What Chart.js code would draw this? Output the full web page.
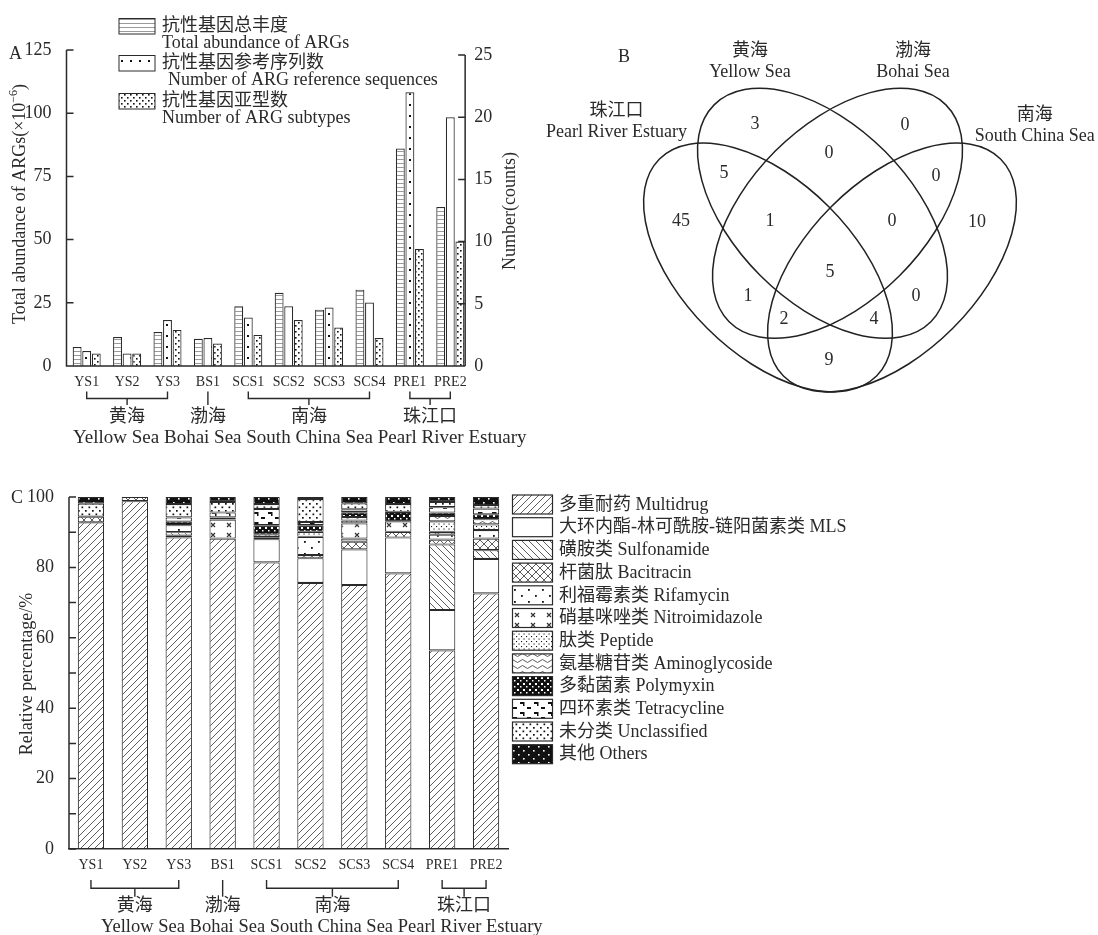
<!DOCTYPE html>
<html>
<head>
<meta charset="utf-8">
<script src="https://cdn.jsdelivr.net/npm/chart.js@4.4.3/dist/chart.umd.min.js"></script>
<style>
html, body { margin: 0; padding: 0; background: #fff; }
#wrap { position: relative; width: 1098px; height: 935px; }
#wrap canvas { position: absolute; }
</style>
</head>
<body>
<div id="wrap">
  <canvas id="chartA" width="540" height="460" style="left:0;top:0;"></canvas>
  <canvas id="chartB" width="558" height="460" style="left:540px;top:0;"></canvas>
  <canvas id="chartC" width="1098" height="475" style="left:0;top:460px;"></canvas>
</div>
<script>
// ---- data ----
const sites = ['YS1', 'YS2', 'YS3', 'BS1', 'SCS1', 'SCS2', 'SCS3', 'SCS4', 'PRE1', 'PRE2'];
const seaGroups = [
    { cn: '黄海', from: 0, to: 2 },
    { cn: '渤海', from: 3, to: 3 },
    { cn: '南海', from: 4, to: 7 },
    { cn: '珠江口', from: 8, to: 9 }
];
const seaNamesEn = ['Yellow Sea', 'Bohai Sea', 'South China Sea', 'Pearl River Estuary'];

// panel A
const totalAbundance = [7.5, 11.5, 13.4, 10.8, 23.6, 29.0, 22.3, 30.2, 86.0, 62.9];
const refSeqCount = [1.2, 1.0, 3.7, 2.25, 3.9, 4.8, 4.7, 5.1, 22.0, 20.0];
const subtypeCount = [1.0, 1.0, 2.9, 1.8, 2.5, 3.7, 3.1, 2.25, 9.4, 10.0];
const abundanceTicks = [0, 25, 50, 75, 100, 125];
const countTicks = [0, 5, 10, 15, 20, 25];
const legendA = [
    { cn: '抗性基因总丰度', en: 'Total abundance of ARGs' },
    { cn: '抗性基因参考序列数', en: 'Number of ARG reference sequences' },
    { cn: '抗性基因亚型数', en: 'Number of ARG subtypes' }
];

// panel B (Venn)
const vennSets = [
    { cn: '珠江口', en: 'Pearl River Estuary' },
    { cn: '黄海', en: 'Yellow Sea' },
    { cn: '渤海', en: 'Bohai Sea' },
    { cn: '南海', en: 'South China Sea' }
];
const vennRegions = ['YS', 'BS', 'YS-BS', 'PRE-YS', 'BS-SCS', 'PRE', 'PRE-YS-BS', 'YS-BS-SCS', 'SCS',
    'ALL', 'PRE-BS', 'YS-SCS', 'PRE-BS-SCS', 'PRE-YS-SCS', 'PRE-SCS'];
const vennCounts = [3, 0, 0, 5, 0, 45, 1, 0, 10, 5, 1, 0, 2, 4, 9];

// panel C
const argClasses = [
    { cn: '多重耐药', en: 'Multidrug' },
    { cn: '大环内酯-林可酰胺-链阳菌素类', en: 'MLS' },
    { cn: '磺胺类', en: 'Sulfonamide' },
    { cn: '杆菌肽', en: 'Bacitracin' },
    { cn: '利福霉素类', en: 'Rifamycin' },
    { cn: '硝基咪唑类', en: 'Nitroimidazole' },
    { cn: '肽类', en: 'Peptide' },
    { cn: '氨基糖苷类', en: 'Aminoglycoside' },
    { cn: '多黏菌素', en: 'Polymyxin' },
    { cn: '四环素类', en: 'Tetracycline' },
    { cn: '未分类', en: 'Unclassified' },
    { cn: '其他', en: 'Others' }
];
const multidrug      = [92.8, 98.8, 88.5, 88.2, 81.4, 75.6, 75.0, 78.3, 56.4, 72.6];
const mls            = [0, 0, 0.5, 0, 6.6, 7.0, 10.1, 10.2, 11.5, 9.8];
const sulfonamide    = [0, 0, 1.0, 0, 0, 0, 0, 0, 18.6, 2.5];
const bacitracin     = [1.6, 1.2, 0, 0, 0.6, 0.9, 2.2, 1.6, 1.4, 3.3];
const rifamycin      = [0, 0, 2.0, 0, 0, 5.2, 0.9, 0, 1.4, 2.4];
const nitroimidazole = [0, 0, 0, 5.4, 0, 0, 4.3, 3.0, 0.8, 0];
const peptide        = [0, 0, 0, 0, 0, 1.4, 0.8, 0, 3.0, 1.6];
const aminoglycoside = [0, 0, 0, 0.6, 0.8, 0, 1.0, 0, 1.5, 1.5];
const polymyxin      = [0, 0, 1.0, 0, 2.6, 1.9, 1.4, 2.7, 1.0, 1.4];
const tetracycline   = [0, 0, 1.2, 1.4, 4.6, 0.9, 0.8, 0, 1.5, 1.6];
const unclassified   = [3.7, 0, 3.8, 3.0, 1.4, 6.5, 1.7, 2.2, 1.5, 1.0];
const others         = [1.9, 0, 2.0, 1.4, 2.0, 0.6, 1.8, 2.0, 1.4, 2.3];
const classValues = [multidrug, mls, sulfonamide, bacitracin, rifamycin, nitroimidazole,
    peptide, aminoglycoside, polymyxin, tetracycline, unclassified, others];

// ---- styling helpers ----
const FONT = '"Liberation Serif", "Times New Roman", "Noto Sans CJK SC", serif';
const INK = '#2a2a2a';

function tile(w, h, bg, draw) {
    const c = document.createElement('canvas');
    c.width = w;
    c.height = h;
    const g = c.getContext('2d');
    g.fillStyle = bg;
    g.fillRect(0, 0, w, h);
    g.strokeStyle = '#333';
    g.fillStyle = '#111';
    g.lineWidth = 0.8;
    draw(g);
    return g.createPattern(c, 'repeat');
}

function diag(g, s, dir) {
    g.beginPath();
    [-s, 0, s].forEach(o => {
        if (dir > 0) { g.moveTo(o, s); g.lineTo(o + s, 0); }
        else { g.moveTo(o, 0); g.lineTo(o + s, s); }
    });
    g.stroke();
}

const patA = [
    tile(8, 4, '#fff', g => { g.fillStyle = '#9a9a9a'; g.fillRect(0, 3, 8, 1); }),
    tile(9, 11, '#fff', g => { g.fillRect(4, 5, 2, 2); }),
    tile(6, 6, '#fff', g => { g.fillRect(1, 1, 1.6, 1.6); g.fillRect(4, 4, 1.6, 1.6); })
];

const patC = [
    tile(7, 7, '#fff', g => diag(g, 7, 1)),
    '#fff',
    tile(7, 7, '#fff', g => diag(g, 7, -1)),
    tile(8, 8, '#fff', g => { diag(g, 8, 1); diag(g, 8, -1); }),
    tile(14, 12, '#fff', g => { g.fillRect(3, 3, 1.8, 1.8); g.fillRect(10, 9, 1.8, 1.8); }),
    tile(16, 10, '#fff', g => {
        g.lineWidth = 1.2;
        g.beginPath();
        g.moveTo(3, 3); g.lineTo(7, 7); g.moveTo(7, 3); g.lineTo(3, 7);
        g.stroke();
    }),
    tile(5, 5, '#fff', g => { g.fillRect(1, 1, 1.1, 1.1); g.fillRect(3.5, 3.5, 1.1, 1.1); }),
    tile(10, 6, '#fff', g => {
        g.beginPath();
        g.moveTo(0, 3);
        g.quadraticCurveTo(2.5, 0, 5, 3);
        g.quadraticCurveTo(7.5, 6, 10, 3);
        g.stroke();
    }),
    tile(6, 6, '#111', g => { g.fillStyle = '#fff'; g.fillRect(1, 1, 2, 2); g.fillRect(4, 4, 1.5, 1.5); }),
    tile(14, 10, '#fff', g => { g.fillRect(2, 2, 4, 2); g.fillRect(5, 2, 1.5, 4); g.fillRect(9, 7, 4, 2); }),
    tile(7, 7, '#fff', g => { g.fillRect(1, 1, 1.7, 1.7); g.fillRect(4.5, 4.5, 1.7, 1.7); }),
    tile(10, 8, '#111', g => { g.fillStyle = '#fff'; g.fillRect(3, 2, 1.6, 1.6); g.fillRect(8, 6, 1.6, 1.6); })
];

function drawBrackets(ctx, xs, cfg) {
    ctx.save();
    ctx.strokeStyle = INK;
    ctx.lineWidth = 1.4;
    ctx.fillStyle = INK;
    ctx.font = `18px ${FONT}`;
    ctx.textAlign = 'center';
    ctx.textBaseline = 'middle';
    seaGroups.forEach(grp => {
        const x0 = xs.getPixelForValue(grp.from);
        const x1 = xs.getPixelForValue(grp.to);
        const xm = (x0 + x1) / 2;
        ctx.beginPath();
        if (grp.from === grp.to) {
            ctx.moveTo(x0, cfg.armTop);
            ctx.lineTo(x0, cfg.stemBottom);
        } else {
            ctx.moveTo(x0, cfg.armTop);
            ctx.lineTo(x0, cfg.barY);
            ctx.lineTo(x1, cfg.barY);
            ctx.lineTo(x1, cfg.armTop);
            ctx.moveTo(xm, cfg.barY);
            ctx.lineTo(xm, cfg.stemBottom);
        }
        ctx.stroke();
        ctx.fillText(grp.cn, xm, cfg.cnY);
    });
    ctx.textAlign = 'left';
    ctx.font = `${cfg.enSize}px ${FONT}`;
    ctx.fillText(seaNamesEn.join(' '), cfg.enX, cfg.enY);
    ctx.restore();
}

// ---- panel A ----
const CAT_A = 0.71;
const panelAPlugin = {
    id: 'panelA',
    afterDraw(chart) {
        const { ctx, chartArea: ca, scales: { x, y, y1 } } = chart;
        const cw = (ca.right - ca.left) / sites.length;
        const xr = x.getPixelForValue(sites.length - 1) + cw * CAT_A / 2 + 0.5;
        const y0 = y.getPixelForValue(0);
        ctx.save();
        ctx.strokeStyle = INK;
        ctx.lineWidth = 1.5;
        ctx.beginPath();
        ctx.moveTo(ca.left, y.getPixelForValue(abundanceTicks[abundanceTicks.length - 1]));
        ctx.lineTo(ca.left, y0);
        ctx.lineTo(xr, y0);
        ctx.moveTo(xr, y1.getPixelForValue(0));
        ctx.lineTo(xr, y1.getPixelForValue(countTicks[countTicks.length - 1]));
        abundanceTicks.forEach(v => {
            const py = y.getPixelForValue(v);
            ctx.moveTo(ca.left, py);
            ctx.lineTo(ca.left + 7, py);
        });
        countTicks.forEach(v => {
            const py = y1.getPixelForValue(v);
            ctx.moveTo(xr - 7, py);
            ctx.lineTo(xr, py);
        });
        ctx.stroke();

        ctx.fillStyle = INK;
        ctx.font = `18px ${FONT}`;
        ctx.textAlign = 'left';
        ctx.textBaseline = 'middle';
        countTicks.forEach(v => ctx.fillText(String(v), xr + 9, y1.getPixelForValue(v)));

        // panel letter
        ctx.fillText('A', 9, 54);

        // left axis title with superscript
        ctx.save();
        ctx.translate(20, 204);
        ctx.rotate(-Math.PI / 2);
        const main = 'Total abundance of ARGs(\u00d710';
        ctx.font = `18px ${FONT}`;
        const wMain = ctx.measureText(main).width;
        ctx.font = `12px ${FONT}`;
        const wSup = ctx.measureText('\u22126').width;
        ctx.font = `18px ${FONT}`;
        const wEnd = ctx.measureText(')').width;
        let sx = -(wMain + wSup + wEnd) / 2;
        ctx.fillText(main, sx, 0);
        sx += wMain;
        ctx.font = `12px ${FONT}`;
        ctx.fillText('\u22126', sx, -6);
        sx += wSup;
        ctx.font = `18px ${FONT}`;
        ctx.fillText(')', sx, 0);
        ctx.restore();

        // right axis title
        ctx.save();
        ctx.translate(510, 211);
        ctx.rotate(-Math.PI / 2);
        ctx.textAlign = 'center';
        ctx.fillText('Number(counts)', 0, 0);
        ctx.restore();

        // legend
        const boxes = [18.5, 55.5, 93.5];
        const enY = [43.5, 80.5, 118.5];
        legendA.forEach((item, i) => {
            ctx.fillStyle = chart.data.datasets[i].backgroundColor;
            ctx.fillRect(119, boxes[i], 36, 15.5);
            ctx.lineWidth = 1;
            ctx.strokeRect(119, boxes[i], 36, 15.5);
            ctx.fillStyle = INK;
            ctx.fillText(item.cn, 162, boxes[i] + 8);
            ctx.fillText(item.en, i === 1 ? 168 : 162, enY[i]);
        });
        ctx.restore();

        drawBrackets(ctx, x, { armTop: 391.5, barY: 398.5, stemBottom: 405, cnY: 417, enSize: 19, enX: 73, enY: 438.5 });
    }
};

new Chart(document.getElementById('chartA'), {
    type: 'bar',
    data: {
        labels: sites,
        datasets: [
            { label: legendA[0].en, data: totalAbundance, yAxisID: 'y', backgroundColor: patA[0] },
            { label: legendA[1].en, data: refSeqCount, yAxisID: 'y1', backgroundColor: patA[1] },
            { label: legendA[2].en, data: subtypeCount, yAxisID: 'y1', backgroundColor: patA[2] }
        ]
    },
    options: {
        responsive: false,
        animation: false,
        layout: { padding: { left: 0, right: 69.5, top: 50, bottom: 62 } },
        datasets: {
            bar: { categoryPercentage: CAT_A, barPercentage: 0.93, borderColor: INK, borderWidth: 1.2, borderSkipped: 'start' }
        },
        plugins: { legend: { display: false }, tooltip: { enabled: false } },
        scales: {
            x: {
                grid: { display: false },
                border: { display: false },
                ticks: { font: { family: FONT, size: 14 }, color: INK, padding: 0, maxRotation: 0, autoSkip: false },
                afterFit: s => { s.height = 32; }
            },
            y: {
                position: 'left',
                min: 0,
                max: 125,
                afterBuildTicks: s => { s.ticks = abundanceTicks.map(v => ({ value: v })); },
                ticks: { font: { family: FONT, size: 18 }, color: INK, padding: 7 },
                grid: { display: false },
                border: { display: false },
                afterFit: s => { s.width = 66.5; }
            },
            y1: { display: false, position: 'right', min: 0, max: 25.4 }
        }
    },
    plugins: [panelAPlugin]
});

// ---- panel B (Venn) ----
const vennSpots = [
    [215, 124], [365, 125], [289, 153], [184, 173], [396, 176], [141, 221], [230, 221], [352, 221],
    [437, 222], [290, 272], [208, 296], [376, 296], [244, 319], [334, 319], [289, 360]
];
const vennEllipses = [
    { cx: 228, cy: 267.5, rx: 153.5, ry: 86, rot: Math.PI / 4 },
    { cx: 282.5, cy: 213.3, rx: 153.3, ry: 88, rot: Math.PI / 4 },
    { cx: 297.5, cy: 213.3, rx: 153.3, ry: 88, rot: -Math.PI / 4 },
    { cx: 352, cy: 267.5, rx: 153.5, ry: 86, rot: -Math.PI / 4 }
];
const vennTitlePos = [[76.5, 111.7], [210, 51.7], [373, 51.7], [494.7, 115]];

const vennPlugin = {
    id: 'venn',
    afterDraw(chart) {
        const { ctx, scales: { x, y } } = chart;
        const kx = x.getPixelForValue(1) - x.getPixelForValue(0);
        const ky = y.getPixelForValue(0) - y.getPixelForValue(1);
        ctx.save();
        ctx.strokeStyle = '#222';
        ctx.lineWidth = 1.5;
        vennEllipses.forEach(e => {
            ctx.beginPath();
            ctx.ellipse(x.getPixelForValue(e.cx), y.getPixelForValue(e.cy), e.rx * kx, e.ry * Math.abs(ky), e.rot, 0, Math.PI * 2);
            ctx.stroke();
        });
        ctx.fillStyle = INK;
        ctx.font = `18px ${FONT}`;
        ctx.textAlign = 'center';
        ctx.textBaseline = 'middle';
        const meta = chart.getDatasetMeta(0);
        meta.data.forEach((pt, i) => ctx.fillText(String(chart.data.datasets[0].data[i].count), pt.x, pt.y));
        vennSets.forEach((s, i) => {
            const px = x.getPixelForValue(vennTitlePos[i][0]);
            const py = y.getPixelForValue(vennTitlePos[i][1]);
            ctx.fillText(s.cn, px, py);
            ctx.fillText(s.en, px, py + 21);
        });
        ctx.fillText('B', x.getPixelForValue(84), y.getPixelForValue(57));
        ctx.restore();
    }
};

new Chart(document.getElementById('chartB'), {
    type: 'scatter',
    data: {
        datasets: [{
            label: 'Venn',
            data: vennCounts.map((c, i) => ({ x: vennSpots[i][0], y: vennSpots[i][1], count: c, region: vennRegions[i] })),
            pointRadius: 0
        }]
    },
    options: {
        responsive: false,
        animation: false,
        layout: { padding: 0 },
        plugins: { legend: { display: false }, tooltip: { enabled: false } },
        scales: {
            x: { type: 'linear', display: false, min: 0, max: 558 },
            y: { type: 'linear', display: false, min: 0, max: 460, reverse: true }
        }
    },
    plugins: [vennPlugin]
});

// ---- panel C ----
const panelCPlugin = {
    id: 'panelC',
    afterDraw(chart) {
        const { ctx, chartArea: ca, scales: { x, y } } = chart;
        ctx.save();
        ctx.strokeStyle = INK;
        ctx.lineWidth = 1.5;
        ctx.beginPath();
        ctx.moveTo(ca.left, y.getPixelForValue(100));
        ctx.lineTo(ca.left, y.getPixelForValue(0));
        y.ticks.forEach(t => {
            const py = y.getPixelForValue(t.value);
            ctx.moveTo(ca.left, py);
            ctx.lineTo(ca.left + 7, py);
        });
        ctx.stroke();

        ctx.fillStyle = INK;
        ctx.font = `18px ${FONT}`;
        ctx.textBaseline = 'middle';
        ctx.textAlign = 'left';
        ctx.fillText('C', 11, 38);

        ctx.save();
        ctx.translate(27, 214);
        ctx.rotate(-Math.PI / 2);
        ctx.textAlign = 'center';
        ctx.fillText('Relative percentage/%', 0, 0);
        ctx.restore();

        // legend
        chart.data.datasets.forEach((ds, i) => {
            const top = 35 + i * 22.7;
            ctx.fillStyle = ds.backgroundColor;
            ctx.fillRect(512.5, top, 40, 19);
            ctx.lineWidth = 1.2;
            ctx.strokeRect(512.5, top, 40, 19);
            ctx.fillStyle = INK;
            ctx.fillText(`${argClasses[i].cn} ${argClasses[i].en}`, 559, top + 10);
        });
        ctx.restore();

        drawBrackets(ctx, x, { armTop: 420, barY: 428.3, stemBottom: 436.7, cnY: 446.7, enSize: 18.5, enX: 101, enY: 466.7 });
    }
};

new Chart(document.getElementById('chartC'), {
    type: 'bar',
    data: {
        labels: sites,
        datasets: argClasses.map((c, i) => ({
            label: c.en,
            data: classValues[i].map(v => (v > 0 ? v : null)),
            backgroundColor: patC[i]
        }))
    },
    options: {
        responsive: false,
        animation: false,
        layout: { padding: { left: 0, right: 590, top: 37, bottom: 54 } },
        datasets: {
            bar: { categoryPercentage: 1, barPercentage: 0.6, borderColor: INK, borderWidth: 1.1, borderSkipped: false }
        },
        plugins: { legend: { display: false }, tooltip: { enabled: false } },
        scales: {
            x: {
                stacked: true,
                grid: { display: false },
                border: { display: true, color: INK, width: 1.5 },
                ticks: { font: { family: FONT, size: 14 }, color: INK, padding: 0, maxRotation: 0, autoSkip: false },
                afterFit: s => { s.height = 32; }
            },
            y: {
                stacked: true,
                min: 0,
                max: 100,
                ticks: {
                    stepSize: 10,
                    font: { family: FONT, size: 18 },
                    color: INK,
                    padding: 7,
                    callback: v => (v % 20 === 0 ? v : '')
                },
                grid: { display: false },
                border: { display: false },
                afterFit: s => { s.width = 69; }
            }
        }
    },
    plugins: [panelCPlugin]
});
</script>
</body>
</html>
